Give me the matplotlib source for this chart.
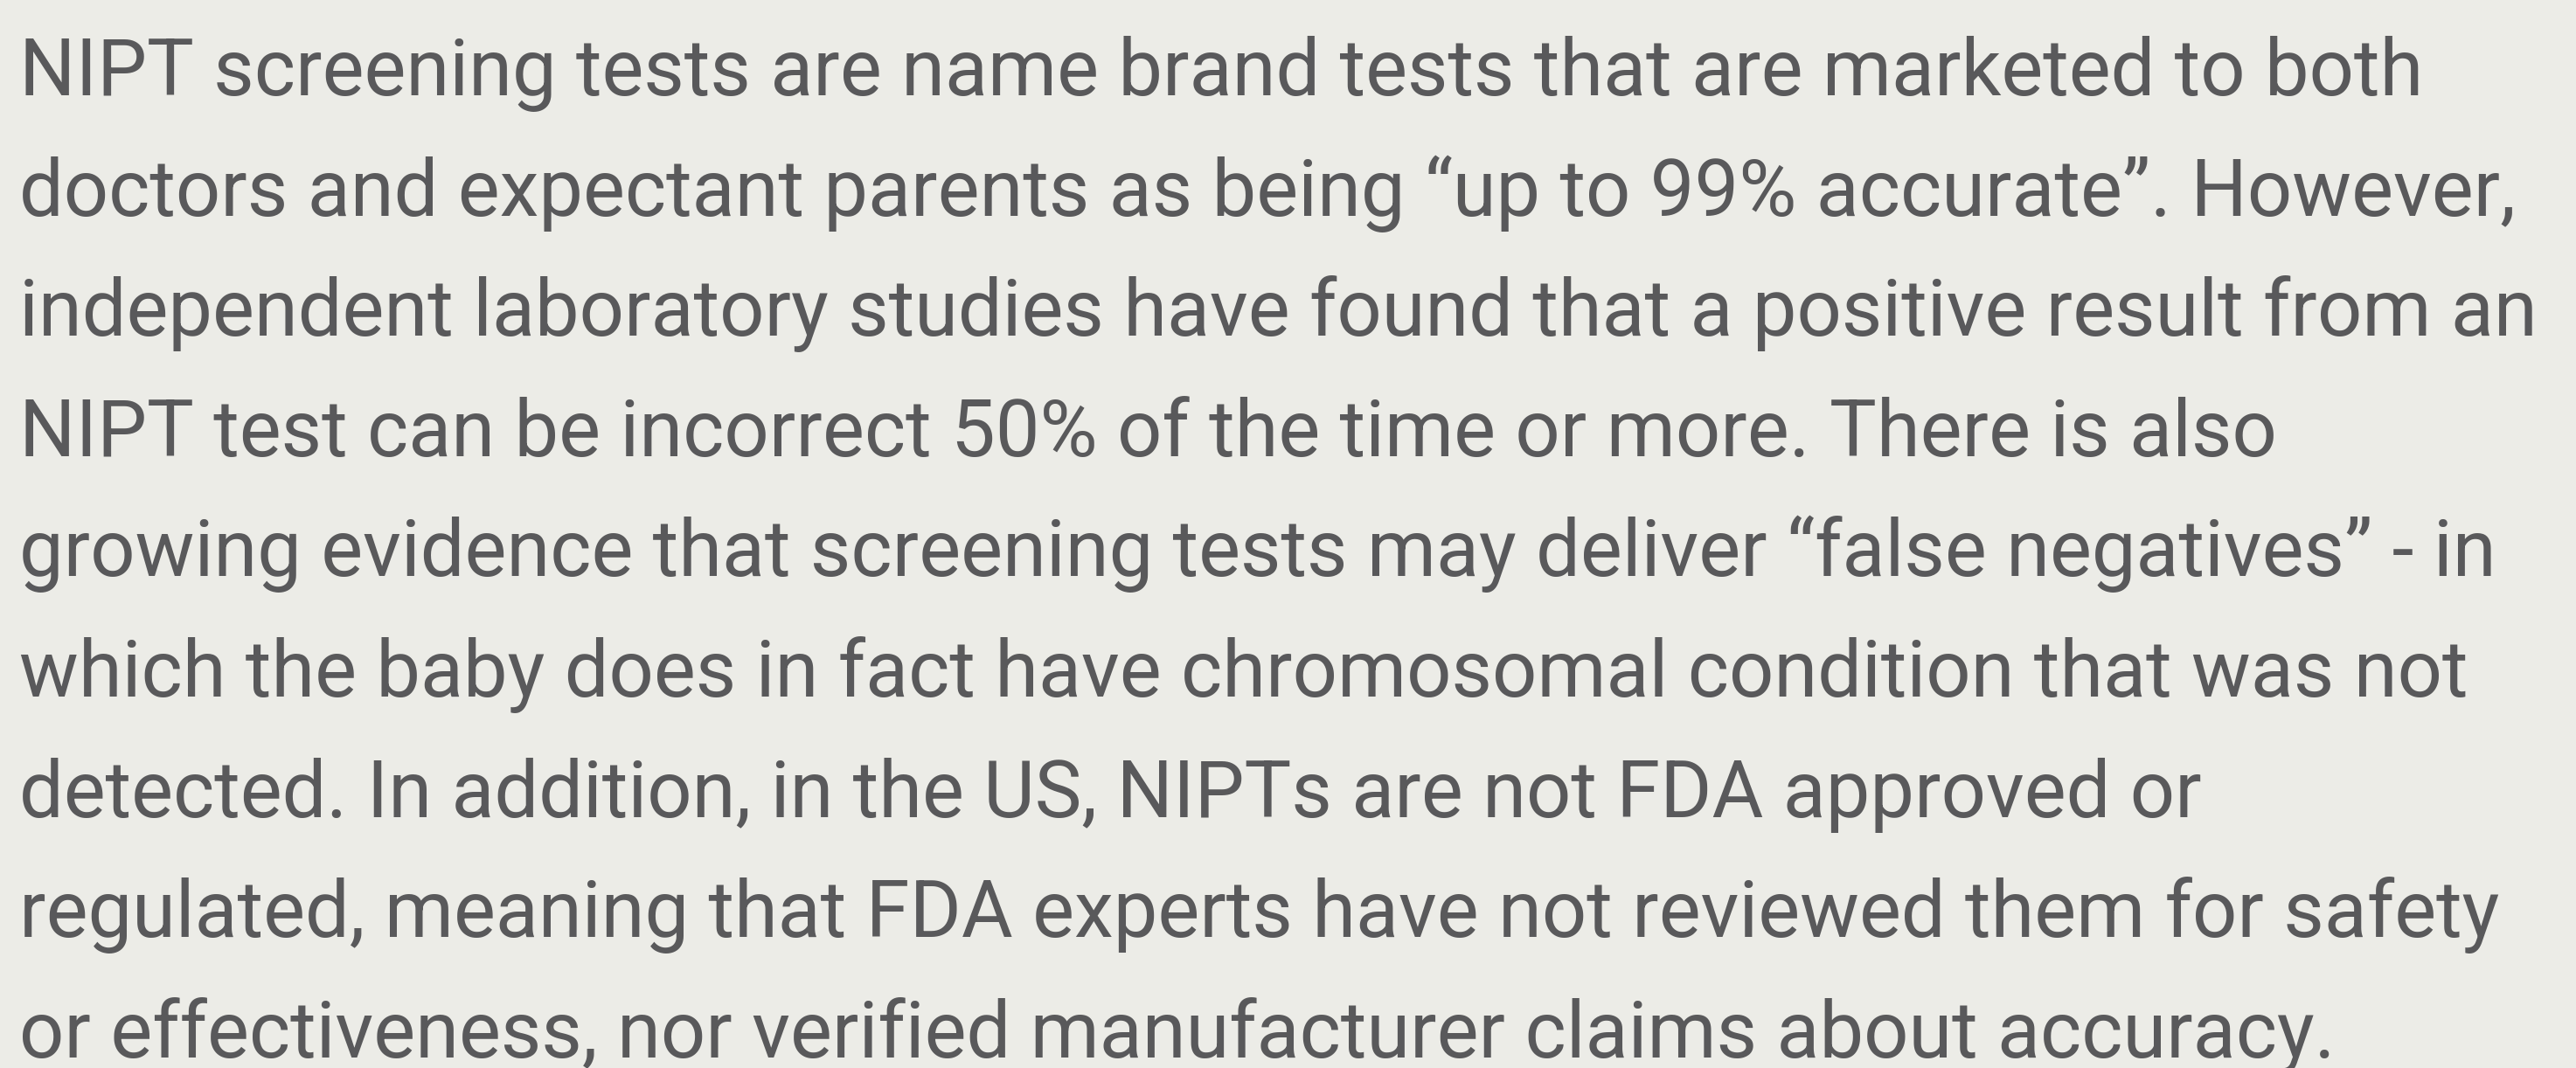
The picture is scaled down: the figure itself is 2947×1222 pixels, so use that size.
import matplotlib
matplotlib.use("Agg")
import matplotlib.pyplot as plt
from matplotlib import font_manager

# paragraph, one entry per rendered line
lines = [
    "NIPT screening tests are name brand tests that are marketed to both",
    "doctors and expectant parents as being \u201cup to 99% accurate\u201d. However,",
    "independent laboratory studies have found that a positive result from an",
    "NIPT test can be incorrect 50% of the time or more. There is also",
    "growing evidence that screening tests may deliver \u201cfalse negatives\u201d - in",
    "which the baby does in fact have chromosomal condition that was not",
    "detected. In addition, in the US, NIPTs are not FDA approved or",
    "regulated, meaning that FDA experts have not reviewed them for safety",
    "or effectiveness, nor verified manufacturer claims about accuracy.",
]

W, H = 2947, 1222
BG = "#ecece7"
FG = "#59595b"

# pick a narrow-ish sans that is installed
names = {f.name for f in font_manager.fontManager.ttflist}
family = "DejaVu Sans"
for cand in ["Liberation Sans Narrow", "Roboto", "Open Sans", "Noto Sans"]:
    if cand in names:
        family = cand
        break

fig = plt.figure(figsize=(W / 100, H / 100), dpi=100, facecolor=BG)
ax = fig.add_axes([0, 0, 1, 1])
ax.set_xlim(0, W)
ax.set_ylim(H, 0)
ax.axis("off")
ax.set_facecolor(BG)

x0 = 22
base0 = 109
step = 137.6

texts = []
for i, s in enumerate(lines):
    t = ax.text(x0, base0 + i * step, s, fontsize=70, family=family,
                color=FG, va="baseline", ha="left")
    texts.append(t)

# scale font so the widest line ends where the original does
fig.canvas.draw()
r = fig.canvas.get_renderer()
widest = max(t.get_window_extent(r).width for t in texts)
fs = 70 * (2904 - x0) / widest
for t in texts:
    t.set_fontsize(fs)

fig.savefig("out.png", dpi=100, facecolor=BG)
